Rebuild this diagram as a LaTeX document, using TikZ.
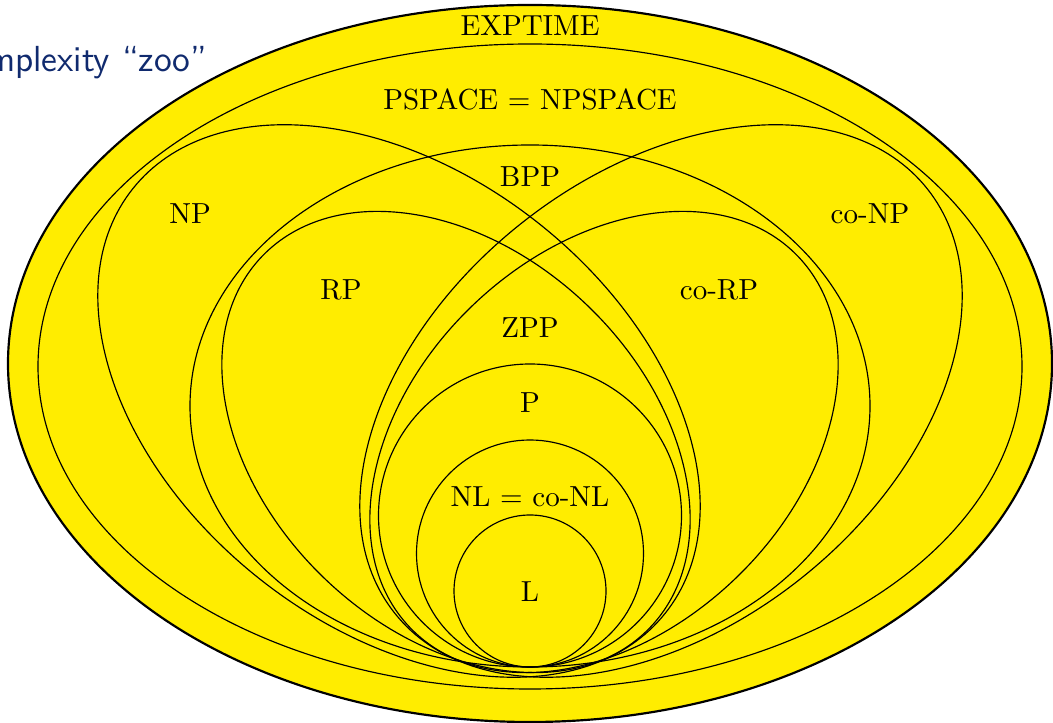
\documentclass[tikz,border=0pt]{standalone}
\definecolor{zooyellow}{RGB}{255,237,0}
\definecolor{titleblue}{RGB}{16,42,110}
\begin{document}
\begin{tikzpicture}[x=0.3448pt,y=0.3448pt,
  cls/.style={draw=black, line width=0.4pt},
  outercls/.style={draw=black, fill=zooyellow, line width=0.75pt},
  lbl/.style={anchor=base, inner sep=0pt, font=\normalsize}]
\useasboundingbox (0,0) rectangle (1053,723);
\node[anchor=base east, inner sep=0pt, font=\sffamily\fontsize{12.5}{15}\selectfont, text=titleblue] (title) at (208,651) {Complexity “zoo”};
% EXPTIME
\draw[outercls] (530,359.5) ellipse [x radius=522, y radius=358.5];
% PSPACE
\draw[cls] (530,356.5) ellipse [x radius=492, y radius=322.5];
% NP and co-NP
\draw[cls, rotate around={-38.6:(399,322)}] (399,322) ellipse [x radius=340.5, y radius=226];
\draw[cls, rotate around={38.6:(661,322)}] (661,322) ellipse [x radius=340.5, y radius=226];
% BPP
\draw[cls] (530,317) ellipse [x radius=340, y radius=261];
% RP and co-RP
\draw[cls, rotate around={-43.7:(456,281)}] (456,281) ellipse [x radius=268.5, y radius=189.5];
\draw[cls, rotate around={43.7:(604,281)}] (604,281) ellipse [x radius=268.5, y radius=189.5];
% P, NL, L
\draw[cls] (530,207.5) circle [radius=151.5];
\draw[cls] (530,169.5) circle [radius=113.5];
\draw[cls] (530,132) circle [radius=76];
% labels
\node[lbl] (exptime) at (530,687) {EXPTIME};
\node[lbl] (pspace) at (530,613) {PSPACE = NPSPACE};
\node[lbl] (bpp) at (530,536) {BPP};
\node[lbl] (np) at (190,499) {NP};
\node[lbl] (conp) at (870,499) {co-NP};
\node[lbl] (rp) at (341,423) {RP};
\node[lbl] (corp) at (719,423) {co-RP};
\node[lbl] (zpp) at (530,385) {ZPP};
\node[lbl] (p) at (530,310) {P};
\node[lbl] (nl) at (530,216) {NL = co-NL};
\node[lbl] (l) at (530,121) {L};
\end{tikzpicture}
\end{document}
